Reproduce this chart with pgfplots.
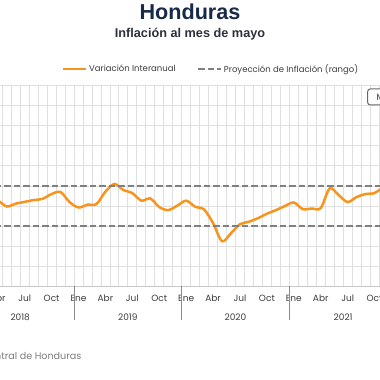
\documentclass[border=0pt]{standalone}
\usepackage{fontspec}
\setmainfont{Poppins}
\newfontfamily\titlefont{Liberation Sans}
\usepackage{pgfplots}
\pgfplotsset{compat=1.18}
\definecolor{orangeline}{RGB}{247,148,29}
\definecolor{dashcol}{RGB}{128,128,128}
\definecolor{gridcol}{RGB}{224,224,224}
\definecolor{titlecol}{RGB}{24,42,74}
\definecolor{subcol}{RGB}{45,48,58}
\definecolor{labcol}{RGB}{60,60,60}
\definecolor{srccol}{RGB}{125,125,125}
\definecolor{divcol}{RGB}{140,140,140}
\definecolor{axcol}{RGB}{200,200,200}
\pgfplotstableread{
i v
2 4.40
3 4.28
4 3.98
5 4.12
6 4.21
7 4.30
8 4.36
9 4.60
10 4.70
11 4.20
12 3.93
13 4.07
14 4.10
15 4.72
16 5.10
17 4.80
18 4.65
19 4.27
20 4.38
21 3.95
22 3.80
23 4.02
24 4.27
25 3.97
26 3.83
27 3.15
28 2.25
29 2.65
30 3.10
31 3.22
32 3.40
33 3.62
34 3.80
35 4.00
36 4.18
37 3.85
38 3.88
39 3.90
40 4.88
41 4.55
42 4.20
43 4.45
44 4.60
45 4.65
46 4.95
}\inflacion
\begin{document}
\begin{tikzpicture}[x=1pt,y=1pt]
\useasboundingbox (0,0) rectangle (380,380);
\clip (0,0) rectangle (380,380);
\node[font=\titlefont\bfseries\fontsize{21.6}{24}\selectfont, text=titlecol] at (190,368) {Honduras};
\node[font=\titlefont\bfseries\fontsize{12.7}{14}\selectfont, text=subcol] at (190,346) {Inflación al mes de mayo};
\begin{axis}[
  at={(-33.6pt,93.5pt)}, anchor=south west,
  scale only axis, width=430.56pt, height=201pt,
  xmin=-0.5, xmax=47.5, ymin=0, ymax=10,
  clip=false,
  xtick={0,3,...,45},
  xticklabels={Ene,Abr,Jul,Oct,Ene,Abr,Jul,Oct,Ene,Abr,Jul,Oct,Ene,Abr,Jul,Oct},
  minor xtick={-0.5,0.5,...,47.5},
  xminorgrids=true, xmajorgrids=false,
  ytick={0,1,...,10}, yticklabels={}, ymajorgrids=true,
  grid style={draw=gridcol, line width=0.8pt},
  minor grid style={draw=gridcol, line width=0.8pt},
  major tick length=0pt, minor tick length=0pt,
  axis x line*=bottom, axis y line*=left,
  y axis line style={draw=none},
  x axis line style={draw=axcol, line width=1pt, -},
  xticklabel style={font=\fontsize{9}{10}\selectfont, text=labcol, anchor=north, yshift=-5pt},
  extra x ticks={5.5,17.5,29.5,41.5},
  extra x tick labels={2018,2019,2020,2021},
  extra x tick style={xticklabel style={yshift=-19pt}},
  legend style={at={(0.568,1.082)}, anchor=center, draw=none, fill=none,
    legend columns=2, font=\fontsize{8.5}{10}\selectfont, text=labcol,
    /tikz/every even column/.append style={column sep=20pt},
    nodes={inner sep=1.5pt}},
  legend image code/.code={\draw[#1] (0pt,0pt) -- (23pt,0pt);},
]
\addplot[orangeline, line width=2.5pt, smooth, tension=0.5] table[x=i,y=v] {\inflacion};
\addlegendentry{Variación Interanual}
\addplot[dashcol, line width=2.3pt, dash pattern=on 6.5pt off 3pt] coordinates {(-0.5,5) (47.5,5)};
\addlegendentry{Proyección de Inflación (rango)}
\addplot[dashcol, line width=2.3pt, dash pattern=on 6.5pt off 3pt, forget plot] coordinates {(-0.5,3) (47.5,3)};
\draw[divcol, line width=1pt] (axis cs:11.5,0) -- ++(0pt,-33pt);
\draw[divcol, line width=1pt] (axis cs:23.5,0) -- ++(0pt,-33pt);
\draw[divcol, line width=1pt] (axis cs:35.5,0) -- ++(0pt,-33pt);
\end{axis}
\node[anchor=east, text=srccol, font=\fontsize{9.6}{12}\selectfont] at (85,24) {Fuente: Banco Central de Honduras};
\draw[dashcol!80!black, line width=1pt, rounded corners=2.5pt, fill=white] (367.7,275) rectangle (410,291);
\node[anchor=west, text=labcol, font=\fontsize{9}{10}\selectfont, inner sep=0pt] at (376.5,283) {Máx};
\end{tikzpicture}
\end{document}
